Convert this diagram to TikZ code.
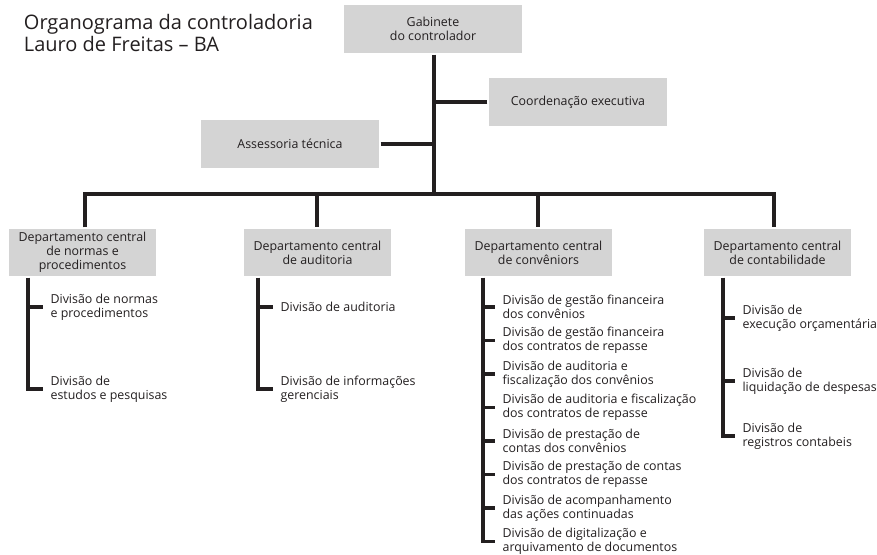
\documentclass[tikz,border=0pt]{standalone}
\usepackage{fontspec}
\setmainfont{Open Sans}
\definecolor{caixa}{HTML}{D4D4D4}
\definecolor{tinta}{HTML}{231F20}
\begin{document}
\begin{tikzpicture}[x=1pt, y=-1pt, line width=3.2pt, color=tinta,
	font=\fontsize{12.4}{13.8}\selectfont,
	caixa/.style={fill=caixa, minimum width=178pt, minimum height=48pt, align=center, inner sep=0pt},
	depto/.style={caixa, minimum width=147pt, minimum height=47pt},
	divi/.style={anchor=west, align=left, inner xsep=6pt, inner ysep=0pt}]
	\useasboundingbox (0,0) rectangle (877,554);
	\path
	(434,194) coordinate (tronco)
	(85,194) coordinate (b1)
	(317,194) coordinate (b2)
	(538,194) coordinate (b3)
	(774,194) coordinate (b4)
	(28,0) coordinate (v1)
	(258,0) coordinate (v2)
	(483,0) coordinate (v3)
	(723,0) coordinate (v4)
	;
	\node[anchor=north west, align=left, font=\fontsize{20}{22.5}\selectfont] (titulo) at (19,9) {Organograma da controladoria\\Lauro de Freitas – BA};
	\node[caixa] (gab) at (433,29) {Gabinete\\do controlador};
	\node[caixa] (coord) at (578,102) {Coordenação executiva};
	\node[caixa] (asse) at (290,144) {Assessoria técnica};
	\node[depto] (dep1) at (82.5,252.5) {Departamento central\\de normas e\\procedimentos};
	\node[depto] (dep2) at (317.5,252.5) {Departamento central\\de auditoria};
	\node[depto] (dep3) at (538.5,252.5) {Departamento central\\de convêniors};
	\node[depto] (dep4) at (777.5,252.5) {Departamento central\\de contabilidade};
	\draw (gab.south -| tronco) -- (tronco);
	\draw (coord.west) -- (coord.west -| tronco);
	\draw (asse.east) -- (asse.east -| tronco);
	\draw (b1 |- dep1.north) -- (b1) -- (b4) -- (b4 |- dep4.north);
	\draw (b2) -- (b2 |- dep2.north);
	\draw (b3) -- (b3 |- dep3.north);
	\node[divi] (c1-0) at (43,307) {Divisão de normas\\e procedimentos};
	\node[divi] (c1-1) at (43,389) {Divisão de\\estudos e pesquisas};
	\node[divi] (c2-0) at (273,307) {Divisão de auditoria};
	\node[divi] (c2-1) at (273,389) {Divisão de informações\\gerenciais};
	\foreach \t [count=\i from 0] in {{Divisão de gestão financeira\\dos convênios},
		{Divisão de gestão financeira\\dos contratos de repasse},
		{Divisão de auditoria e\\fiscalização dos convênios},
		{Divisão de auditoria e fiscalização\\dos contratos de repasse},
		{Divisão de prestação de\\contas dos convênios},
		{Divisão de prestação de contas\\dos contratos de repasse},
		{Divisão de acompanhamento\\das ações continuadas},
		{Divisão de digitalização e\\arquivamento de documentos}}
	\node[divi] (c3-\i) at (495,307+33.5*\i) {\t};
	\node[divi] (c4-0) at (735,318) {Divisão de\\execução orçamentária};
	\node[divi] (c4-1) at (735,381) {Divisão de\\liquidação de despesas};
	\node[divi] (c4-2) at (735,436) {Divisão de\\registros contabeis};
	\draw (dep1.south -| v1) -- (v1 |- c1-1.west) -- (c1-1.west);
	\draw (v1 |- c1-0.west) -- (c1-0.west);
	\draw (dep2.south -| v2) -- (v2 |- c2-1.west) -- (c2-1.west);
	\draw (v2 |- c2-0.west) -- (c2-0.west);
	\draw (dep3.south -| v3) -- (v3 |- c3-7.west) -- (c3-7.west);
	\foreach \i in {0,...,6} \draw (v3 |- c3-\i.west) -- (c3-\i.west);
	\draw (dep4.south -| v4) -- (v4 |- c4-2.west) -- (c4-2.west);
	\foreach \i in {0,1} \draw (v4 |- c4-\i.west) -- (c4-\i.west);
\end{tikzpicture}
\end{document}
